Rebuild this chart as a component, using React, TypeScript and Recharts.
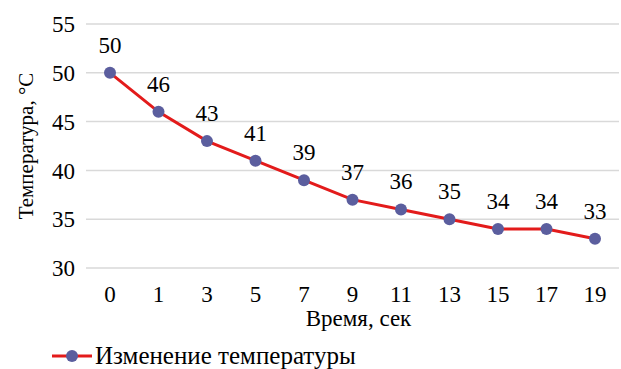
import React from 'react';
import {
    LineChart,
    Line,
    XAxis,
    YAxis,
    CartesianGrid,
    Legend,
    LabelList,
    Label
} from 'recharts';

const times = ['0', '1', '3', '5', '7', '9', '11', '13', '15', '17', '19'];
const temperatures = [50, 46, 43, 41, 39, 37, 36, 35, 34, 34, 33];
const yTicks = [30, 35, 40, 45, 50, 55];
const seriesName = 'Изменение температуры';

const data = times.map((t, i) => ({ time: t, temp: temperatures[i] }));

const FONT = 'Liberation Serif';
const LINE = '#E31B1B';
const DOT = '#5B5E9E';
const textStyle = { fontSize: 23, fontFamily: FONT, fill: '#000' };

const renderLegend = () => (
    <div style={{ display: 'flex', alignItems: 'center', fontFamily: FONT, fontSize: 25, color: '#000', lineHeight: '26px' }}>
        <svg width={40} height={14} style={{ marginRight: 3 }}>
            <line x1={0} y1={7} x2={40} y2={7} stroke={LINE} strokeWidth={3} />
            <circle cx={20} cy={7} r={6} fill={DOT} />
        </svg>
        <span>{seriesName}</span>
    </div>
);

const App: React.FC = () => {
    return (
        <div style={{ position: 'absolute', left: 0, top: 0, width: 621, height: 369, background: '#fff', fontFamily: FONT }}>
            <LineChart width={621} height={369} data={data} margin={{ top: 24, right: 2, left: 0, bottom: 0 }}>
                <CartesianGrid horizontal vertical={false} stroke="#d9d9d9" strokeWidth={1.5} />
                <XAxis
                    dataKey="time"
                    axisLine={false}
                    tickLine={false}
                    height={75}
                    padding={{ left: 24, right: 24 }}
                    tick={textStyle}
                    dy={10}
                >
                    <Label value="Время, сек" position="insideBottom" offset={17} dx={6} style={textStyle} />
                </XAxis>
                <YAxis
                    domain={[30, 55]}
                    ticks={yTicks}
                    axisLine={false}
                    tickLine={false}
                    width={86}
                    tick={textStyle}
                    dx={-3}
                >
                    <Label
                        value="Температура,  °С"
                        angle={-90}
                        position="insideLeft"
                        offset={26}
                        style={{ ...textStyle, fontSize: 21, textAnchor: 'middle', whiteSpace: 'pre' }}
                    />
                </YAxis>
                <Legend
                    verticalAlign="bottom"
                    align="left"
                    height={26}
                    content={renderLegend}
                    wrapperStyle={{ left: 52, bottom: 0 }}
                />
                <Line
                    type="linear"
                    dataKey="temp"
                    name={seriesName}
                    stroke={LINE}
                    strokeWidth={3}
                    dot={{ r: 6, fill: DOT, stroke: DOT, strokeWidth: 0 }}
                    activeDot={false}
                    isAnimationActive={false}
                >
                    <LabelList dataKey="temp" position="top" offset={20} style={textStyle} />
                </Line>
            </LineChart>
        </div>
    );
};

export default App;
